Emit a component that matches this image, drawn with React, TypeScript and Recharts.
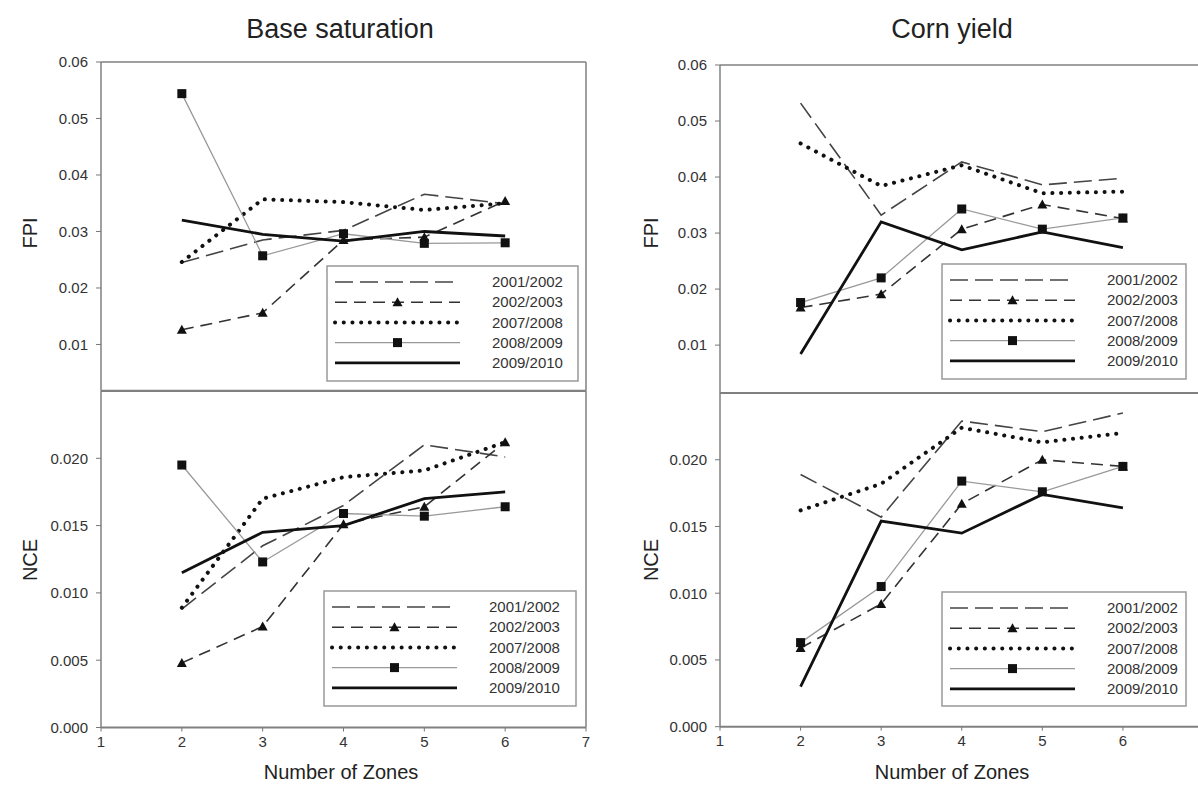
import React from 'react';
import { LineChart, Line, XAxis, YAxis } from 'recharts';

// Number of zones (x)
const zones = [2, 3, 4, 5, 6];
const seasons = ['2001/2002', '2002/2003', '2007/2008', '2008/2009', '2009/2010'];

// Base saturation - FPI
const fpiBs2001 = [0.0245, 0.0285, 0.0302, 0.0366, 0.0349];
const fpiBs2002 = [0.0126, 0.0156, 0.0285, 0.029, 0.0354];
const fpiBs2007 = [0.0246, 0.0357, 0.0352, 0.0338, 0.035];
const fpiBs2008 = [0.0544, 0.0257, 0.0296, 0.0279, 0.028];
const fpiBs2009 = [0.032, 0.0295, 0.0283, 0.03, 0.0292];

// Base saturation - NCE
const nceBs2001 = [0.0088, 0.0135, 0.0165, 0.021, 0.0201];
const nceBs2002 = [0.0048, 0.0075, 0.0151, 0.0164, 0.0212];
const nceBs2007 = [0.0089, 0.017, 0.0186, 0.0191, 0.0212];
const nceBs2008 = [0.0195, 0.0123, 0.0159, 0.0157, 0.0164];
const nceBs2009 = [0.0115, 0.0145, 0.015, 0.017, 0.0175];

// Corn yield - FPI
const fpiCy2001 = [0.0532, 0.0332, 0.0427, 0.0386, 0.0398];
const fpiCy2002 = [0.0167, 0.0191, 0.0307, 0.0351, 0.0326];
const fpiCy2007 = [0.046, 0.0384, 0.0421, 0.0371, 0.0374];
const fpiCy2008 = [0.0176, 0.022, 0.0343, 0.0307, 0.0327];
const fpiCy2009 = [0.0084, 0.032, 0.027, 0.0302, 0.0274];

// Corn yield - NCE
const nceCy2001 = [0.0189, 0.0157, 0.0229, 0.0221, 0.0235];
const nceCy2002 = [0.0059, 0.0092, 0.0167, 0.02, 0.0195];
const nceCy2007 = [0.0162, 0.0182, 0.0224, 0.0213, 0.022];
const nceCy2008 = [0.0063, 0.0105, 0.0184, 0.0176, 0.0195];
const nceCy2009 = [0.003, 0.0154, 0.0145, 0.0174, 0.0164];

const xTicksLeft = [1, 2, 3, 4, 5, 6, 7];
const xTicksRight = [1, 2, 3, 4, 5, 6];
const fpiTicks = [0.01, 0.02, 0.03, 0.04, 0.05, 0.06];
const nceTicks = [0, 0.005, 0.01, 0.015, 0.02];

const FONT = '"Liberation Sans", Arial, sans-serif';
const FRAME = '#808080';

const buildRows = (s: number[][]) =>
  zones.map((z, i) => ({ zone: z, s0: s[0][i], s1: s[1][i], s2: s[2][i], s3: s[3][i], s4: s[4][i] }));

const SquareDot = (props: any) => {
  const { cx, cy } = props;
  if (cx == null || cy == null) return null;
  return <rect x={cx - 4.5} y={cy - 4.5} width={9} height={9} fill="#111" />;
};

const TriangleDot = (props: any) => {
  const { cx, cy } = props;
  if (cx == null || cy == null) return null;
  return <path d={`M${cx},${cy - 5} L${cx + 5},${cy + 4} L${cx - 5},${cy + 4} Z`} fill="#111" />;
};

const seriesStyle = [
  { stroke: '#444', width: 1.6, dash: '18 7', cap: 'butt', marker: null },
  { stroke: '#333', width: 1.6, dash: '12 7', cap: 'butt', marker: 'tri' },
  { stroke: '#111', width: 4, dash: '0.1 8.6', cap: 'round', marker: null },
  { stroke: '#999', width: 1.3, dash: undefined, cap: 'butt', marker: 'sq' },
  { stroke: '#111', width: 2.8, dash: undefined, cap: 'butt', marker: null },
];

type PanelProps = {
  plotX: number;
  plotY: number;
  plotW: number;
  plotH: number;
  series: number[][];
  domain: [number, number];
  ticks: number[];
  xTicks: number[];
  digits: number;
  bottom: boolean;
};

const Panel = ({ plotX, plotY, plotW, plotH, series, domain, ticks, xTicks, digits, bottom }: PanelProps) => {
  const xh = bottom ? 40 : 1;
  const data = buildRows(series);
  const tickStyle = { fontSize: 15, fill: '#333', fontFamily: FONT };
  return (
    <div style={{ position: 'absolute', left: plotX - 100, top: plotY - 10 }}>
      <LineChart
        width={plotW + 110}
        height={plotH + 10 + xh}
        data={data}
        margin={{ top: 9, right: 9, left: 40, bottom: 0 }}
      >
        <XAxis
          type="number"
          dataKey="zone"
          domain={[1, 7]}
          ticks={xTicks}
          allowDataOverflow
          height={xh}
          tick={bottom ? tickStyle : false}
          tickLine={bottom ? { stroke: '#777' } : false}
          tickSize={4}
          tickMargin={5}
          axisLine={{ stroke: FRAME, strokeWidth: 2 }}
        />
        <XAxis
          xAxisId="top"
          orientation="top"
          type="number"
          domain={[1, 7]}
          height={1}
          tick={false}
          tickLine={false}
          axisLine={{ stroke: FRAME, strokeWidth: bottom ? 2 : 1.5 }}
        />
        <YAxis
          type="number"
          domain={domain}
          ticks={ticks}
          allowDataOverflow
          width={60}
          tick={tickStyle}
          tickFormatter={(v: number) => v.toFixed(digits)}
          tickSize={5}
          tickMargin={8}
          tickLine={{ stroke: '#777' }}
          axisLine={{ stroke: FRAME, strokeWidth: 1.5 }}
        />
        <YAxis
          yAxisId="right"
          orientation="right"
          width={1}
          tick={false}
          tickLine={false}
          axisLine={{ stroke: FRAME, strokeWidth: 1.5 }}
        />
        {seriesStyle.map((st, i) => (
          <Line
            key={i}
            type="linear"
            dataKey={`s${i}`}
            stroke={st.stroke}
            strokeWidth={st.width}
            strokeDasharray={st.dash}
            strokeLinecap={st.cap as any}
            dot={st.marker === 'sq' ? <SquareDot /> : st.marker === 'tri' ? <TriangleDot /> : false}
            activeDot={false}
            isAnimationActive={false}
          />
        ))}
      </LineChart>
    </div>
  );
};

const LegendBox = ({ x, y, w, h }: { x: number; y: number; w: number; h: number }) => {
  const lx1 = 9;
  const lx2 = 134;
  const mid = (lx1 + lx2) / 2;
  return (
    <svg style={{ position: 'absolute', left: x, top: y }} width={w} height={h}>
      <rect x={1} y={1} width={w - 2} height={h - 2} fill="#fff" stroke="#999" strokeWidth={1.5} />
      {seasons.map((s, i) => {
        const st = seriesStyle[i];
        const ry = 17 + i * 20.2;
        return (
          <g key={s}>
            <line
              x1={lx1}
              x2={lx2}
              y1={ry}
              y2={ry}
              stroke={st.stroke}
              strokeWidth={st.width}
              strokeDasharray={st.dash}
              strokeLinecap={st.cap as any}
            />
            {st.marker === 'sq' && <SquareDot cx={mid} cy={ry} />}
            {st.marker === 'tri' && <TriangleDot cx={mid} cy={ry} />}
            <text x={166} y={ry} dy="0.35em" fontSize={15} fill="#333" fontFamily={FONT}>
              {s}
            </text>
          </g>
        );
      })}
    </svg>
  );
};

const Label = ({ x, y, text, size, rotate }: { x: number; y: number; text: string; size: number; rotate?: boolean }) => (
  <div
    style={{
      position: 'absolute',
      left: x,
      top: y,
      transform: `translate(-50%, -50%)${rotate ? ' rotate(-90deg)' : ''}`,
      fontFamily: FONT,
      fontSize: size,
      color: '#222',
      whiteSpace: 'nowrap',
      lineHeight: 1.15,
    }}
  >
    {text}
  </div>
);

export default function App() {
  return (
    <div style={{ position: 'absolute', left: 0, top: 0, width: 1198, height: 785, overflow: 'hidden', background: '#fff' }}>
      <Panel
        plotX={101}
        plotY={61.7}
        plotW={485}
        plotH={328.8}
        series={[fpiBs2001, fpiBs2002, fpiBs2007, fpiBs2008, fpiBs2009]}
        domain={[0.0018, 0.06]}
        ticks={fpiTicks}
        xTicks={xTicksLeft}
        digits={2}
        bottom={false}
      />
      <Panel
        plotX={101}
        plotY={390.5}
        plotW={485}
        plotH={336.5}
        series={[nceBs2001, nceBs2002, nceBs2007, nceBs2008, nceBs2009]}
        domain={[0, 0.025]}
        ticks={nceTicks}
        xTicks={xTicksLeft}
        digits={3}
        bottom
      />
      <Panel
        plotX={719.5}
        plotY={65}
        plotW={483.5}
        plotH={328.3}
        series={[fpiCy2001, fpiCy2002, fpiCy2007, fpiCy2008, fpiCy2009]}
        domain={[0.0014, 0.06]}
        ticks={fpiTicks}
        xTicks={xTicksRight}
        digits={2}
        bottom={false}
      />
      <Panel
        plotX={719.5}
        plotY={393.3}
        plotW={483.5}
        plotH={333.7}
        series={[nceCy2001, nceCy2002, nceCy2007, nceCy2008, nceCy2009]}
        domain={[0, 0.025]}
        ticks={nceTicks}
        xTicks={xTicksRight}
        digits={3}
        bottom
      />
      <LegendBox x={326} y={265} w={253} h={117} />
      <LegendBox x={323} y={590} w={254} h={117} />
      <LegendBox x={941} y={263} w={246} h={117} />
      <LegendBox x={941} y={591} w={246} h={116} />
      <Label x={340} y={30} text="Base saturation" size={27} />
      <Label x={952} y={30} text="Corn yield" size={27} />
      <Label x={30} y={233} text="FPI" size={20} rotate />
      <Label x={30} y={560} text="NCE" size={20} rotate />
      <Label x={651} y={233} text="FPI" size={20} rotate />
      <Label x={651} y={560} text="NCE" size={20} rotate />
      <Label x={341} y={772} text="Number of Zones" size={20} />
      <Label x={952} y={772} text="Number of Zones" size={20} />
    </div>
  );
}
